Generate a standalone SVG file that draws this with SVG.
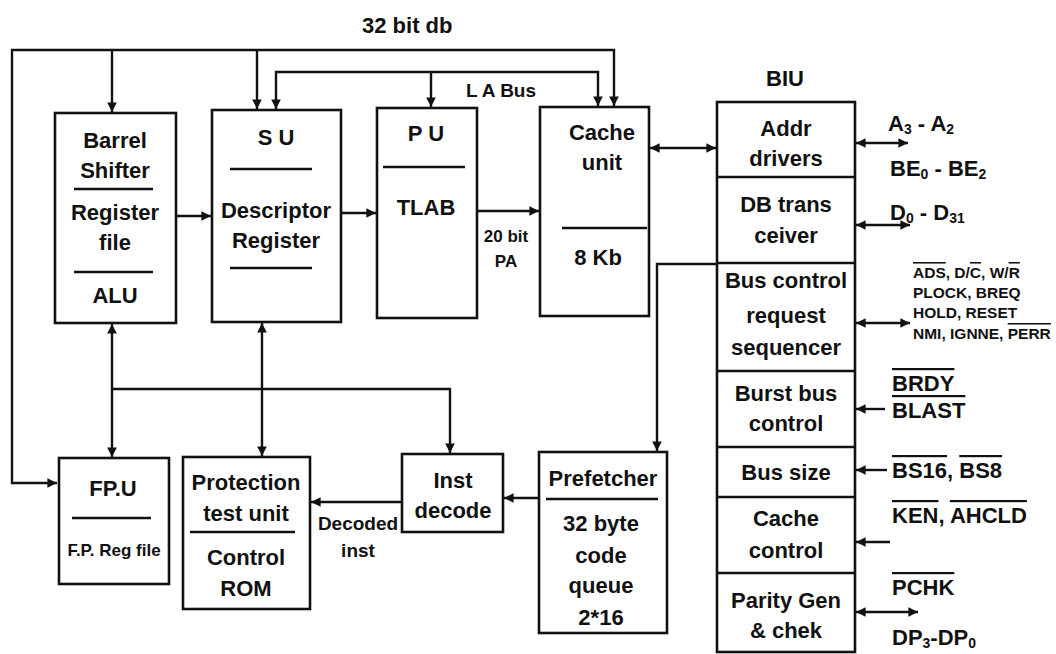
<svg xmlns="http://www.w3.org/2000/svg" width="1056" height="654" viewBox="0 0 1056 654">
<style>
 text{font-family:"Liberation Sans",Arial,sans-serif;font-weight:bold;fill:#111;dominant-baseline:central}
 .c{text-anchor:middle}
 .box{fill:none;stroke:#111;stroke-width:2.6}
 .sep{stroke:#111;stroke-width:2.4}
 .w{fill:none;stroke:#111;stroke-width:2.4}
 .m{font-size:22px}
 .s{font-size:17px}
 .t{font-size:15.5px}
 .ov{text-decoration:overline}
</style>
<defs>
 <marker id="ah" viewBox="0 0 10 10" refX="10" refY="5" markerWidth="4" markerHeight="4" orient="auto-start-reverse"><path d="M0,0 L10,5 L0,10 z" fill="#111"/></marker>
</defs>
<rect width="1056" height="654" fill="#fff"/>

<g id="connectors">
 <path class="w" d="M614,106 V50 H12 V483 H57" marker-start="url(#ah)" marker-end="url(#ah)"/>
 <path class="w" d="M112,50 V112" marker-end="url(#ah)"/>
 <path class="w" d="M257,50 V109" marker-end="url(#ah)"/>
 <path class="w" d="M276,109 V72 H598 V106" marker-start="url(#ah)" marker-end="url(#ah)"/>
 <path class="w" d="M431,72 V107" marker-end="url(#ah)"/>
 <path class="w" d="M176,216 H211" marker-end="url(#ah)"/>
 <path class="w" d="M341,213 H376" marker-end="url(#ah)"/>
 <path class="w" d="M477,211 H539" marker-end="url(#ah)"/>
 <path class="w" d="M650,148 H716" marker-start="url(#ah)" marker-end="url(#ah)"/>
 <path class="w" d="M717,264 H657 V451" marker-end="url(#ah)"/>
 <path class="w" d="M539,498 H504" marker-end="url(#ah)"/>
 <path class="w" d="M402,502 H311" marker-end="url(#ah)"/>
 <path class="w" d="M112,324 V457" marker-start="url(#ah)" marker-end="url(#ah)"/>
 <path class="w" d="M262,323 V456" marker-start="url(#ah)" marker-end="url(#ah)"/>
 <path class="w" d="M112,389 H450 V453" marker-end="url(#ah)"/>
 <path class="w" d="M856,143 H908" marker-start="url(#ah)" marker-end="url(#ah)"/>
 <path class="w" d="M856,225 H910" marker-start="url(#ah)" marker-end="url(#ah)"/>
 <path class="w" d="M856,323 H910" marker-start="url(#ah)" marker-end="url(#ah)"/>
 <path class="w" d="M885,409 H856" marker-end="url(#ah)"/>
 <path class="w" d="M887,470 H856" marker-end="url(#ah)"/>
 <path class="w" d="M890,542 H856" marker-end="url(#ah)"/>
 <path class="w" d="M856,612 H918" marker-start="url(#ah)" marker-end="url(#ah)"/>
</g>

<g id="bus-labels">
 <text class="m" x="362" y="25">32 bit db</text>
 <text x="466" y="90" style="font-size:19px">L A Bus</text>
 <text class="s c" x="506" y="236">20 bit</text>
 <text class="s c" x="506" y="261">PA</text>
 <text class="c" x="358" y="523" style="font-size:19px">Decoded</text>
 <text class="c" x="358" y="550" style="font-size:19px">inst</text>
</g>

<g id="barrel">
 <rect class="box" x="55" y="113" width="121" height="210"/>
 <text class="m c" x="115" y="140">Barrel</text>
 <text class="m c" x="115" y="170">Shifter</text>
 <line class="sep" x1="74" y1="189" x2="153" y2="189"/>
 <text class="m c" x="115" y="212">Register</text>
 <text class="m c" x="115" y="242">file</text>
 <line class="sep" x1="74" y1="272" x2="153" y2="272"/>
 <text class="m c" x="115" y="295">ALU</text>
</g>

<g id="su">
 <rect class="box" x="212" y="110" width="129" height="212"/>
 <text class="m c" x="276" y="137">S U</text>
 <line class="sep" x1="230" y1="169" x2="312" y2="169"/>
 <text class="m c" x="276" y="210">Descriptor</text>
 <text class="m c" x="276" y="240">Register</text>
 <line class="sep" x1="230" y1="268" x2="312" y2="268"/>
</g>

<g id="pu">
 <rect class="box" x="377" y="108" width="100" height="210"/>
 <text class="m c" x="426" y="133">P U</text>
 <line class="sep" x1="383" y1="167" x2="465" y2="167"/>
 <text class="m c" x="426" y="207">TLAB</text>
</g>

<g id="cache">
 <rect class="box" x="540" y="107" width="109" height="209"/>
 <text class="m c" x="602" y="132">Cache</text>
 <text class="m c" x="602" y="162">unit</text>
 <line class="sep" x1="562" y1="228" x2="647" y2="228"/>
 <text class="m c" x="598" y="257">8 Kb</text>
</g>

<g id="biu">
 <text class="m c" x="785" y="78">BIU</text>
 <rect class="box" x="717" y="102" width="138" height="550"/>
 <line class="sep" x1="717" y1="177" x2="855" y2="177"/>
 <line class="sep" x1="717" y1="263" x2="855" y2="263"/>
 <line class="sep" x1="717" y1="371" x2="855" y2="371"/>
 <line class="sep" x1="717" y1="447" x2="855" y2="447"/>
 <line class="sep" x1="717" y1="497" x2="855" y2="497"/>
 <line class="sep" x1="717" y1="573" x2="855" y2="573"/>
 <text class="m c" x="786" y="128">Addr</text>
 <text class="m c" x="786" y="158">drivers</text>
 <text class="m c" x="786" y="204">DB trans</text>
 <text class="m c" x="786" y="235">ceiver</text>
 <text class="m c" x="786" y="280">Bus control</text>
 <text class="m c" x="786" y="315">request</text>
 <text class="m c" x="786" y="347">sequencer</text>
 <text class="m c" x="786" y="393">Burst bus</text>
 <text class="m c" x="786" y="423">control</text>
 <text class="m c" x="786" y="472">Bus size</text>
 <text class="m c" x="786" y="518">Cache</text>
 <text class="m c" x="786" y="550">control</text>
 <text class="m c" x="786" y="600">Parity Gen</text>
 <text class="m c" x="786" y="630">&amp; chek</text>
</g>

<g id="biu-signals">
 <text class="m" x="888" y="123">A<tspan font-size="14" dy="6">3</tspan><tspan dy="-6"> - A</tspan><tspan font-size="14" dy="6">2</tspan></text>
 <text class="m" x="890" y="168">BE<tspan font-size="14" dy="6">0</tspan><tspan dy="-6"> - BE</tspan><tspan font-size="14" dy="6">2</tspan></text>
 <text class="m" x="890" y="212">D<tspan font-size="14" dy="6">0</tspan><tspan dy="-6"> - D</tspan><tspan font-size="14" dy="6">31</tspan></text>
 <text class="t" x="913" y="272"><tspan class="ov">ADS</tspan>, D/<tspan class="ov">C</tspan>, W/<tspan class="ov">R</tspan></text>
 <text class="t" x="913" y="292">PLOCK, BREQ</text>
 <text class="t" x="913" y="312">HOLD, RESET</text>
 <text class="t" x="913" y="333">NMI, IGNNE, <tspan class="ov">PERR</tspan></text>
 <text class="m" x="892" y="383"><tspan class="ov">BRDY</tspan></text>
 <text class="m" x="892" y="410"><tspan class="ov">BLAST</tspan></text>
 <text class="m" x="892" y="470"><tspan class="ov">BS16</tspan>, <tspan class="ov">BS8</tspan></text>
 <text class="m" x="892" y="515"><tspan class="ov">KEN</tspan>, <tspan class="ov">AHCLD</tspan></text>
 <text class="m" x="892" y="587"><tspan class="ov">PCHK</tspan></text>
 <text class="m" x="892" y="637">DP<tspan font-size="14" dy="6">3</tspan><tspan dy="-6">-DP</tspan><tspan font-size="14" dy="6">0</tspan></text>
</g>

<g id="fpu">
 <rect class="box" x="59" y="458" width="110" height="126"/>
 <text class="m c" x="113" y="488">FP.U</text>
 <line class="sep" x1="72" y1="518" x2="151" y2="518"/>
 <text class="s c" x="114" y="550">F.P. Reg file</text>
</g>

<g id="protection">
 <rect class="box" x="183" y="457" width="127" height="152"/>
 <text class="m c" x="246" y="482">Protection</text>
 <text class="m c" x="246" y="513">test unit</text>
 <line class="sep" x1="190" y1="532" x2="295" y2="532"/>
 <text class="m c" x="246" y="557">Control</text>
 <text class="m c" x="246" y="588">ROM</text>
</g>

<g id="inst-decode">
 <rect class="box" x="402" y="454" width="101" height="78"/>
 <text class="m c" x="453" y="480">Inst</text>
 <text class="m c" x="453" y="510">decode</text>
</g>

<g id="prefetcher">
 <rect class="box" x="539" y="452" width="128" height="181"/>
 <text class="m c" x="603" y="478">Prefetcher</text>
 <line class="sep" x1="546" y1="499" x2="658" y2="499"/>
 <text class="m c" x="601" y="523">32 byte</text>
 <text class="m c" x="601" y="555">code</text>
 <text class="m c" x="601" y="585">queue</text>
 <text class="m c" x="601" y="617">2*16</text>
</g>
</svg>
